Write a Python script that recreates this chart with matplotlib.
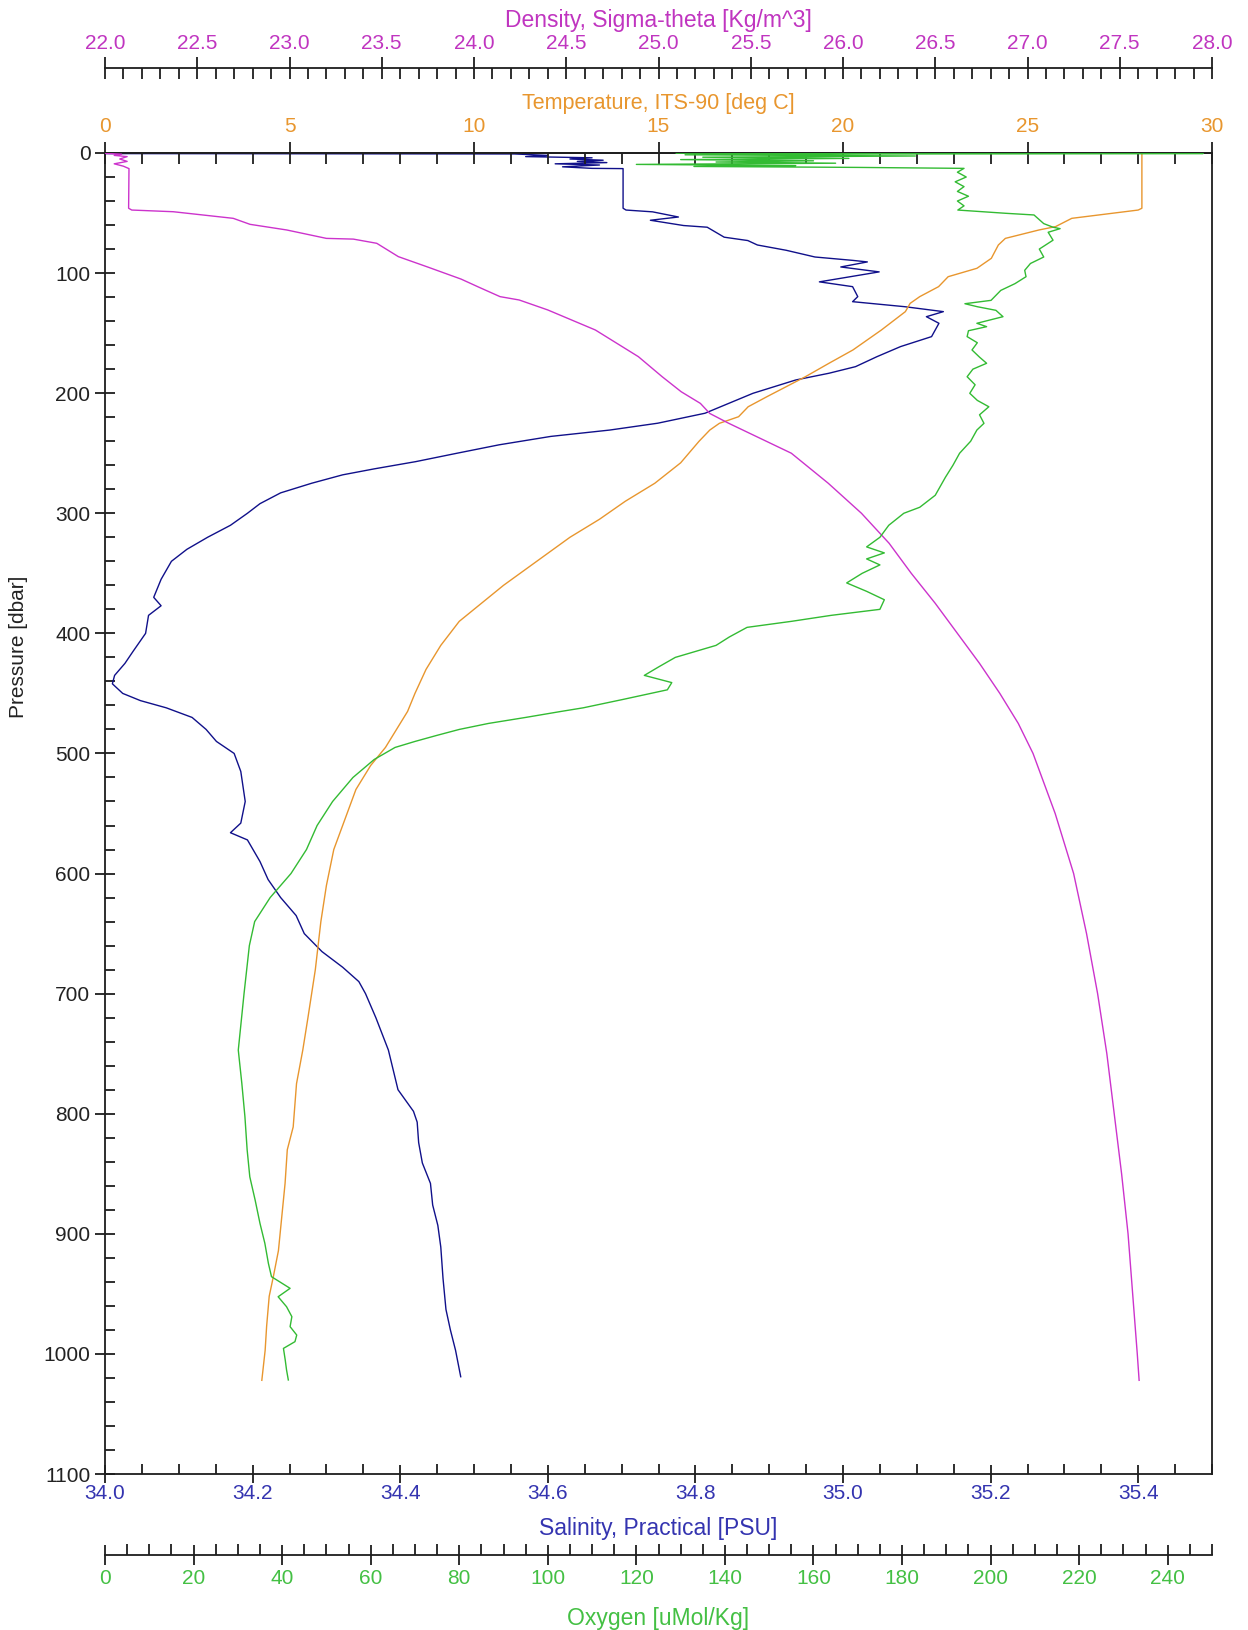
import matplotlib
matplotlib.use("Agg")
import matplotlib.pyplot as plt
from matplotlib.ticker import MultipleLocator, FormatStrFormatter

plt.rcParams["font.family"] = ["Liberation Sans", "DejaVu Sans"]

# ---------------- CTD profile data ----------------
# Temperature, ITS-90 [deg C]
temp_p = [0.5, 46, 47.5, 54.4, 61.3, 64.1, 71.1, 76.6, 87.7, 96, 103, 111.3, 119.6,
          125.2, 132.1, 147.4, 164, 175.1, 186.3, 194.6, 202.9, 211.3, 219.6, 225.1,
          230.7, 240, 258, 275, 290, 305, 320, 340, 360, 375, 390, 410, 430, 450, 465,
          480, 495, 510, 530, 555, 580, 610, 640, 680, 720, 747, 775, 811, 830, 858,
          886, 914, 936, 952, 977, 997, 1022]
temp_c = [28.1, 28.1, 28.0, 26.2, 25.76, 25.31, 24.40, 24.21, 24.02, 23.63, 22.85, 22.59,
          22.08, 21.82, 21.69, 21.04, 20.27, 19.62, 18.98, 18.46, 17.94, 17.43, 17.17,
          16.65, 16.39, 16.1, 15.6, 14.9, 14.1, 13.4, 12.6, 11.7, 10.8, 10.2, 9.6, 9.1,
          8.7, 8.4, 8.2, 7.9, 7.6, 7.2, 6.8, 6.5, 6.2, 6.0, 5.85, 5.7, 5.5, 5.36, 5.19,
          5.10, 4.94, 4.88, 4.79, 4.70, 4.56, 4.45, 4.38, 4.34, 4.25]

# Salinity, Practical [PSU]
sal_p = [0.5, 0.8, 2, 3, 4, 5, 6, 7, 8, 9, 10, 11.5, 12.8, 13, 46, 47.5, 49, 53.3, 56,
         60.4, 61.8, 70.1, 72.9, 76.6, 81, 86.6, 89.4, 90.7, 94.9, 99, 107.3, 111.3,
         119.6, 123.8, 128, 132.1, 136.3, 141.8, 152.9, 161.2, 169.6, 177.9, 183.4, 189,
         200.1, 216.7, 225, 230.7, 236, 243, 250, 257, 263, 268, 275, 283, 292, 300, 310,
         320, 330, 340, 355, 370, 377, 385, 400, 415, 425, 435, 442, 450, 456, 462, 470,
         480, 490, 500, 515, 540, 558, 566, 572, 590, 605, 620, 635, 650, 665, 678, 690,
         700, 720, 747, 780, 798, 807, 824, 841, 858, 876, 893, 911, 937, 963, 980, 997,
         1019]
sal_psu = [34.00, 34.555, 34.60, 34.57, 34.66, 34.63, 34.675, 34.64, 34.68, 34.61, 34.67,
           34.62, 34.66, 34.702, 34.702, 34.706, 34.742, 34.777, 34.739, 34.784, 34.816,
           34.839, 34.871, 34.884, 34.923, 34.962, 35.013, 35.033, 34.997, 35.049, 34.968,
           35.013, 35.020, 35.013, 35.084, 35.136, 35.113, 35.130, 35.120, 35.078, 35.046,
           35.017, 34.981, 34.936, 34.878, 34.813, 34.749, 34.684, 34.604, 34.534, 34.477,
           34.421, 34.365, 34.322, 34.280, 34.238, 34.210, 34.193, 34.170, 34.139, 34.111,
           34.090, 34.076, 34.066, 34.076, 34.059, 34.055, 34.038, 34.027, 34.013, 34.010,
           34.024, 34.048, 34.083, 34.118, 34.137, 34.151, 34.175, 34.184, 34.190, 34.184,
           34.170, 34.193, 34.210, 34.221, 34.238, 34.259, 34.270, 34.294, 34.322, 34.344,
           34.353, 34.367, 34.384, 34.397, 34.418, 34.423, 34.425, 34.430, 34.441, 34.444,
           34.451, 34.455, 34.458, 34.462, 34.468, 34.475, 34.482]

# Oxygen [uMol/Kg]
oxy_p = [0.2, 0.4, 0.8, 1.5, 2.5, 3.5, 4.5, 5.5, 6.5, 7.5, 8.5, 9.5, 10.5, 11.2, 12.0,
         12.8, 16, 20, 24, 28, 32, 36, 40, 44, 47.5, 50.2, 51.6, 58.8, 61.8, 63, 66, 72.6,
         80, 86.6, 92, 97.7, 103, 108.8, 114.4, 122.7, 125.5, 128, 131.0, 136.3, 141.8,
         144.6, 148, 152.9, 158, 164, 170, 175.1, 180, 186.3, 193, 200.1, 206, 211.3, 218,
         225.1, 230.7, 240, 250, 260, 270, 285, 295, 300, 310, 320, 328, 333, 338, 343,
         350, 358, 365, 372, 380, 385, 390, 395, 403, 410, 420, 428, 435, 441, 447, 455,
         462, 465, 470, 475, 480, 485, 490, 495, 505, 520, 540, 560, 580, 600, 620, 640,
         660, 700, 747, 774.7, 802.5, 830, 852.5, 871.8, 891.3, 907.9, 924.6, 935.7, 945.4,
         952.4, 960.7, 969, 977.3, 984.3, 989.8, 995.4, 1005, 1013.4, 1021.7]
oxy_umol = [129, 248, 175, 131, 183, 135, 168, 130, 160, 138, 165, 120, 156, 133, 170,
            194, 192.5, 194.5, 192, 194, 192.5, 195, 192.5, 194, 192.6, 203.4, 209.8, 212.0,
            214.1, 215.7, 213, 214.1, 211, 212.0, 209, 207.7, 208, 205.5, 202.3, 200.1,
            194.2, 197, 201.2, 202.8, 196.9, 199.1, 195, 194.7, 197, 195.8, 197.5, 199.1,
            196, 194.7, 196.5, 195.3, 197, 199.6, 197.5, 198.5, 196.9, 195.5, 193, 191.5,
            189.8, 187.5, 184, 180.4, 177, 175, 172, 176, 172, 175, 171, 167.5, 172, 176,
            175, 164, 155, 145, 141, 138, 128.8, 125, 121.8, 128, 127, 117, 108, 103, 95,
            86.6, 80, 74.9, 70, 65.5, 60.8, 56, 51.4, 47.9, 45.5, 42, 37.3, 33.8, 32.6,
            31.4, 30.1, 30.9, 31.6, 32.1, 32.7, 33.9, 35.0, 36.1, 36.9, 37.6, 41.8, 39.1,
            41.0, 42.2, 41.8, 43.3, 42.9, 40.3, 40.7, 41.0, 41.4]

# Density, Sigma-theta [Kg/m^3]
dens_p = [0.3, 1, 2, 3, 5, 7, 9, 11, 13, 46, 47.5, 48.9, 54.4, 59.4, 64.1, 71.1, 71.7,
          75.2, 86.3, 95, 105, 112, 119.6, 122.4, 130.7, 147.4, 169.6, 186.3, 198.8, 208.5,
          216.9, 225.1, 250, 275, 300, 325, 350, 375, 400, 425, 450, 475, 500, 550, 600,
          650, 700, 750, 800, 850, 900, 950, 1000, 1022]
dens_sigma = [22.0, 22.09, 22.05, 22.12, 22.08, 22.12, 22.05, 22.10, 22.13, 22.128, 22.145,
              22.370, 22.695, 22.786, 22.985, 23.2, 23.346, 23.473, 23.59, 23.75, 23.93,
              24.03, 24.141, 24.245, 24.40, 24.658, 24.891, 25.02, 25.123, 25.227, 25.278,
              25.381, 25.72, 25.92, 26.10, 26.25, 26.37, 26.50, 26.62, 26.74, 26.85, 26.95,
              27.03, 27.15, 27.25, 27.32, 27.38, 27.43, 27.47, 27.51, 27.545, 27.57, 27.595,
              27.605]

# ---------------- styling ----------------
AXIS_C = "#1e1e1e"
TXT_C = "#222222"
SAL_LINE, SAL_TXT = "#10108a", "#3434b0"
TMP_LINE, TMP_TXT = "#e8962e", "#e8962e"
OXY_LINE, OXY_TXT = "#33bb33", "#44c044"
DEN_LINE, DEN_TXT = "#cc33cc", "#c035c0"
FS = 15
FS_TITLE = 16.5
LW_AX = 1.3
LW_DATA = 1.0

W, H = 1248, 1630
L, R, T, B = 105, 1212, 153, 1474
AH = B - T

fig = plt.figure(figsize=(W / 100, H / 100), dpi=100)
ax = fig.add_axes([L / W, 1 - B / H, (R - L) / W, AH / H])

# Salinity (bottom) and pressure (left)
ax.set_xlim(34.0, 35.5)
ax.set_ylim(1100, 0)
ax.plot(sal_psu, sal_p, color=SAL_LINE, lw=LW_DATA, zorder=3)
ax.xaxis.set_major_locator(MultipleLocator(0.2))
ax.xaxis.set_minor_locator(MultipleLocator(0.05))
ax.xaxis.set_major_formatter(FormatStrFormatter("%.1f"))
ax.yaxis.set_major_locator(MultipleLocator(100))
ax.yaxis.set_minor_locator(MultipleLocator(20))
ax.yaxis.set_major_formatter(FormatStrFormatter("%d"))
ax.tick_params(axis="x", which="major", direction="inout", length=13, width=LW_AX,
               color=AXIS_C, labelcolor=SAL_TXT, labelsize=FS, pad=1)
ax.tick_params(axis="x", which="minor", direction="in", length=7.5, width=LW_AX,
               color=AXIS_C)
ax.tick_params(axis="y", which="major", direction="inout", length=15, width=LW_AX,
               color=AXIS_C, labelcolor=TXT_C, labelsize=FS, pad=3)
ax.tick_params(axis="y", which="minor", direction="in", length=7.5, width=LW_AX,
               color=AXIS_C)
for s in ax.spines.values():
    s.set_color(AXIS_C)
    s.set_linewidth(LW_AX)

# Temperature (top of plot frame)
ax_t = ax.twiny()
ax_t.set_xlim(0, 30)
ax_t.plot(temp_c, temp_p, color=TMP_LINE, lw=LW_DATA, zorder=3)
ax_t.xaxis.set_major_locator(MultipleLocator(5))
ax_t.xaxis.set_minor_locator(MultipleLocator(1))
ax_t.xaxis.set_major_formatter(FormatStrFormatter("%d"))
ax_t.tick_params(axis="x", which="major", direction="inout", length=16, width=LW_AX,
                 color=AXIS_C, labelcolor=TMP_TXT, labelsize=FS, pad=4)
ax_t.tick_params(axis="x", which="minor", direction="in", length=8, width=LW_AX,
                 color=AXIS_C)
for k in ("left", "right", "bottom"):
    ax_t.spines[k].set_visible(False)
ax_t.spines["top"].set_color(AXIS_C)
ax_t.spines["top"].set_linewidth(LW_AX)

# Density (detached scale above the frame)
ax_d = ax.twiny()
ax_d.set_xlim(22.0, 28.0)
ax_d.plot(dens_sigma, dens_p, color=DEN_LINE, lw=LW_DATA, zorder=3)
ax_d.spines["top"].set_position(("axes", 1 + (T - 68) / AH))
ax_d.xaxis.set_major_locator(MultipleLocator(0.5))
ax_d.xaxis.set_minor_locator(MultipleLocator(0.1))
ax_d.xaxis.set_major_formatter(FormatStrFormatter("%.1f"))
ax_d.tick_params(axis="x", which="major", direction="inout", length=16, width=LW_AX,
                 color=AXIS_C, labelcolor=DEN_TXT, labelsize=FS, pad=3)
ax_d.tick_params(axis="x", which="minor", direction="in", length=8, width=LW_AX,
                 color=AXIS_C)
for k in ("left", "right", "bottom"):
    ax_d.spines[k].set_visible(False)
ax_d.spines["top"].set_color(AXIS_C)
ax_d.spines["top"].set_linewidth(LW_AX)

# Oxygen (detached scale below the frame)
ax_o = ax.twiny()
ax_o.set_xlim(0, 250)
ax_o.plot(oxy_umol, oxy_p, color=OXY_LINE, lw=LW_DATA, zorder=3)
ax_o.xaxis.set_ticks_position("bottom")
ax_o.spines["bottom"].set_position(("axes", -(1555 - B) / AH))
ax_o.spines["bottom"].set_visible(True)
ax_o.xaxis.set_major_locator(MultipleLocator(20))
ax_o.xaxis.set_minor_locator(MultipleLocator(5))
ax_o.xaxis.set_major_formatter(FormatStrFormatter("%d"))
ax_o.tick_params(axis="x", which="major", direction="inout", length=14, width=LW_AX,
                 color=AXIS_C, labelcolor=OXY_TXT, labelsize=FS, pad=3)
ax_o.tick_params(axis="x", which="minor", direction="in", length=8, width=LW_AX,
                 color=AXIS_C)
for k in ("left", "right", "top"):
    ax_o.spines[k].set_visible(False)
ax_o.spines["bottom"].set_color(AXIS_C)
ax_o.spines["bottom"].set_linewidth(LW_AX)

# Scale titles
cx = (L + R) / 2 / W
fig.text(cx, 1 - 20 / H, "Density, Sigma-theta [Kg/m^3]", color=DEN_TXT,
         fontsize=FS_TITLE, ha="center", va="center")
fig.text(cx, 1 - 104 / H, "Temperature, ITS-90 [deg C]", color=TMP_TXT,
         fontsize=15.5, ha="center", va="center")
fig.text(cx, 1 - 1529 / H, "Salinity, Practical [PSU]", color=SAL_TXT,
         fontsize=FS_TITLE, ha="center", va="center")
fig.text(cx, 1 - 1619 / H, "Oxygen [uMol/Kg]", color=OXY_TXT,
         fontsize=FS_TITLE, ha="center", va="center")
fig.text(19 / W, 1 - 647 / H, "Pressure [dbar]", color=TXT_C, fontsize=FS,
         rotation=90, ha="center", va="center")

fig.savefig("out.png", dpi=100, facecolor="white")
